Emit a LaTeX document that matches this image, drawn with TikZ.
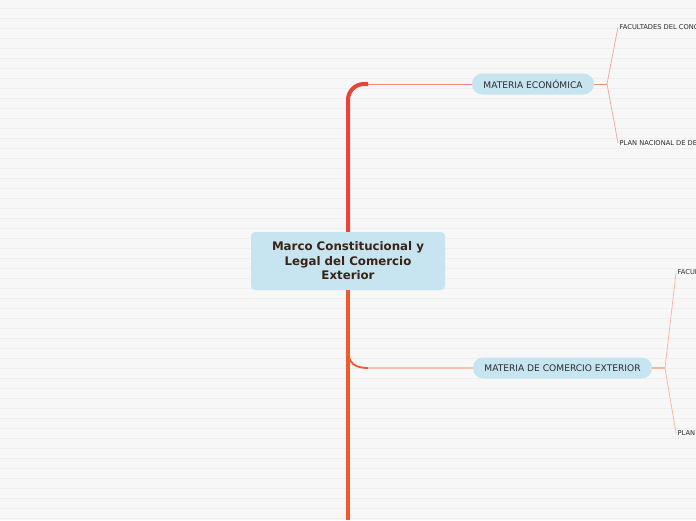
\documentclass[tikz,border=0pt]{standalone}
\usepackage{fontspec}
\setmainfont{DejaVu Sans}
\definecolor{bgc}{HTML}{F7F7F7}
\definecolor{gridc}{HTML}{EFEFEF}
\definecolor{nodefill}{HTML}{C6E5F0}
\definecolor{rootText}{HTML}{3A2216}
\definecolor{labelText}{HTML}{2B2B2B}
\definecolor{trunkRed}{HTML}{E8443A}
\definecolor{trunkOrange}{HTML}{F05A28}
\definecolor{branchRed}{HTML}{EF8A80}
\definecolor{branchOrange}{HTML}{F7BFAE}
\definecolor{leafRed}{HTML}{F4A39B}
\definecolor{leafOrange}{HTML}{F6B49E}
\tikzset{
  rootbox/.style={draw=none, fill=nodefill, rounded corners=4pt, minimum width=194pt, minimum height=58pt,
    align=center, text=rootText, font=\fontsize{11.8}{14.5}\selectfont\bfseries, inner sep=0pt},
  pill/.style={draw=none, fill=nodefill, rounded corners=10.5pt, minimum height=21pt, inner xsep=11.5pt,
    inner ysep=0pt, text=labelText, font=\fontsize{9.1}{10}\selectfont},
  leaf/.style={anchor=west, inner sep=1.5pt, text=labelText, font=\fontsize{6.7}{7.5}\selectfont},
}
\begin{document}
\begin{tikzpicture}[x=1pt,y=-1pt]
\useasboundingbox (0,0) rectangle (696,520);
\clip (0,0) rectangle (696,520);
\fill[bgc] (0,0) rectangle (696,520);
\foreach \y in {8,18,...,518} \draw[gridc, line width=0.8pt] (0,\y) -- (696,\y);

% nodes
\node[rootbox] (root) at (348,261) {Marco Constitucional y\\Legal del Comercio\\Exterior};
\node[pill] (me) at (533,84) {MATERIA ECONÓMICA};
\node[pill] (mce) at (562.5,368) {MATERIA DE COMERCIO EXTERIOR};
\node[leaf] (l1) at (618,27) {FACULTADES DEL CONGRESO};
\node[leaf] (l2) at (618,143) {PLAN NACIONAL DE DESARROLLO};
\node[leaf] (l3) at (676,273) {FACULTADES DEL EJECUTIVO};
\node[leaf] (l4) at (676,433) {PLAN NACIONAL DE DESARROLLO};

\coordinate (c1) at (368,84);
\coordinate (c2) at (368,368);
\coordinate (bottom) at (348,520);
\coordinate (b0) at (348,350);
\coordinate (j1) at (607,84);
\coordinate (j2) at (665,368);

% trunk
\draw[trunkRed, line width=4pt, rounded corners=16pt] (root.north) |- (c1);
\draw[branchRed, line width=1pt] (c1) -- (me.west);
\draw[trunkOrange, line width=4pt] (root.south) -- (bottom);
\draw[trunkOrange, line width=1.8pt] (b0) .. controls (348,364) and (356,368) .. (c2);
\draw[branchOrange, line width=1.2pt] (c2) -- (mce.west);

% leaves
\draw[branchRed, line width=0.9pt] (me.east) -- (j1);
\draw[leafRed, line width=0.7pt] (j1) -- (l1.west);
\draw[leafRed, line width=0.7pt] (j1) -- (l2.west);
\draw[leafOrange, line width=1.1pt] (mce.east) -- (j2);
\draw[leafOrange, line width=0.7pt] (j2) -- (l3.west);
\draw[leafOrange, line width=0.7pt] (j2) -- (l4.west);
\end{tikzpicture}
\end{document}
